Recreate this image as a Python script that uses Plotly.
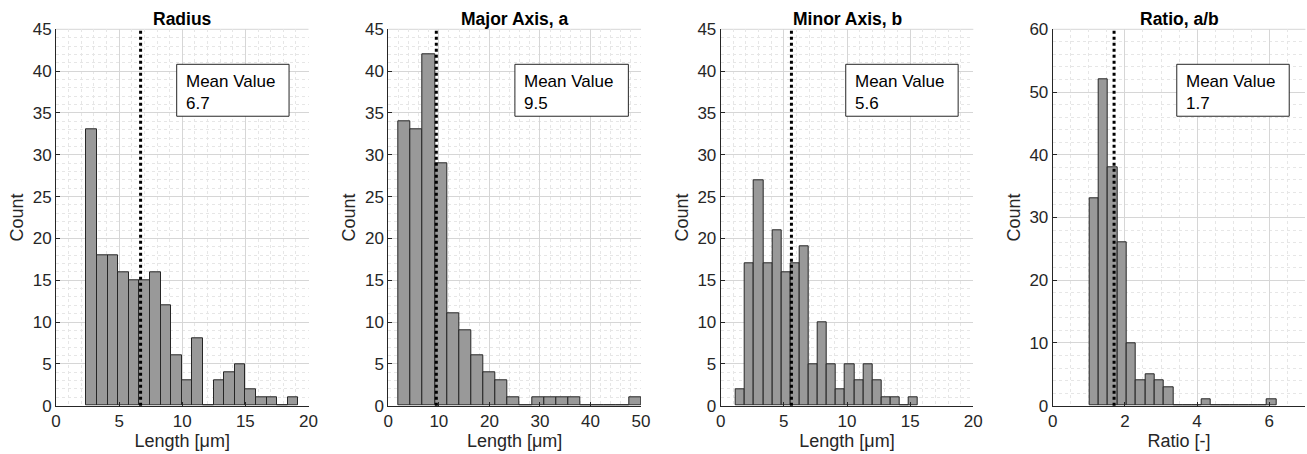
import plotly.graph_objects as go

# ---------------- data ----------------
titles = ["Radius", "Major Axis, a", "Minor Axis, b", "Ratio, a/b"]
xlabels = ["Length [μm]", "Length [μm]", "Length [μm]", "Ratio [-]"]

radius_counts = [33, 18, 18, 16, 15, 15, 16, 12, 6, 3, 8, 0, 3, 4, 5, 2, 1, 1, 0, 1]
major_counts = [34, 33, 42, 29, 11, 9, 6, 4, 3, 1, 0, 1, 1, 1, 1, 0, 0, 0, 0, 1]
minor_counts = [2, 17, 27, 17, 21, 16, 17, 19, 5, 10, 5, 2, 5, 3, 5, 3, 1, 1, 0, 1]
ratio_counts = [33, 52, 38, 26, 10, 4, 5, 4, 3, 0, 0, 0, 1, 0, 0, 0, 0, 0, 0, 1]

bin_starts = [2.40, 2.0, 1.21, 1.014]
bin_widths = [0.84, 2.4, 0.72, 0.259]
mean_values = [6.7, 9.5, 5.6, 1.7]

x_ranges = [[0, 20], [0, 50], [0, 20], [0, 7]]
x_dticks = [5, 10, 5, 2]
x_minor = [1, 2, 1, 0.5]
y_ranges = [[0, 45], [0, 45], [0, 45], [0, 60]]
y_dticks = [5, 5, 5, 10]
y_minor = [1, 1, 1, 2]

# ---------------- layout geometry ----------------
W, H = 1307, 454
x_domains = [[56 / W, 308.5 / W], [388.3 / W, 641 / W],
             [720.7 / W, 973.3 / W], [1052.7 / W, 1305.4 / W]]
y_domain = [1 - 405.7 / H, 1 - 29.3 / H]
box_x = [[0.478, 0.923], [0.501, 0.950], [0.495, 0.940], [0.491, 0.936]]
box_y = [0.769, 0.907]

TXT = "#262626"
FONT = "Liberation Sans, Arial, Helvetica, sans-serif"
MAJ = "#d6d6d6"
MIN = "#e6e6e6"

all_counts = [radius_counts, major_counts, minor_counts, ratio_counts]

fig = go.Figure()
layout = dict(
    width=W, height=H,
    margin=dict(l=0, r=0, t=0, b=0, autoexpand=False),
    paper_bgcolor="white", plot_bgcolor="white",
    showlegend=False,
    font=dict(family=FONT, color=TXT, size=16),
    shapes=[], annotations=[],
    bargap=0,
)

for i in range(4):
    sfx = "" if i == 0 else str(i + 1)
    xa, ya = "x" + sfx, "y" + sfx
    counts = all_counts[i]
    centers = [bin_starts[i] + bin_widths[i] * (k + 0.5) for k in range(len(counts))]
    fig.add_trace(go.Bar(
        x=centers, y=counts, width=[bin_widths[i]] * len(counts),
        xaxis=xa, yaxis=ya,
        marker=dict(color="rgb(153,153,153)", line=dict(color="#262626", width=1)),
        hoverinfo="x+y",
    ))
    layout["xaxis" + sfx] = dict(
        domain=x_domains[i], anchor=ya, range=x_ranges[i],
        dtick=x_dticks[i], tick0=0, automargin=False,
        showline=True, linecolor=TXT, linewidth=1, mirror=False,
        ticks="inside", ticklen=4, tickcolor=TXT,
        showgrid=True, gridcolor=MAJ, gridwidth=1,
        minor=dict(dtick=x_minor[i], tick0=0, showgrid=True, gridcolor=MIN,
                   griddash="dot", gridwidth=1, ticks=""),
        zeroline=False,
        tickfont=dict(size=17, color=TXT),
        title=dict(text=xlabels[i], font=dict(size=18, color=TXT), standoff=3),
    )
    layout["yaxis" + sfx] = dict(
        domain=y_domain, anchor=xa, range=y_ranges[i],
        dtick=y_dticks[i], tick0=0, automargin=False,
        showline=True, linecolor=TXT, linewidth=1, mirror=False,
        ticks="inside", ticklen=4, tickcolor=TXT,
        showgrid=True, gridcolor=MAJ, gridwidth=1,
        minor=dict(dtick=y_minor[i], tick0=0, showgrid=True, gridcolor=MIN,
                   griddash="dot", gridwidth=1, ticks=""),
        zeroline=False,
        tickfont=dict(size=17, color=TXT),
        title=dict(text="Count", font=dict(size=18, color=TXT), standoff=4),
    )
    # top / right frame in light grid color
    layout["shapes"].append(dict(type="line", xref=xa + " domain", yref=ya + " domain",
                                 x0=0, x1=1, y0=1, y1=1, line=dict(color=MAJ, width=1),
                                 layer="below"))
    # mean line
    layout["shapes"].append(dict(type="line", xref=xa, yref=ya + " domain",
                                 x0=mean_values[i], x1=mean_values[i], y0=0, y1=1,
                                 line=dict(color="black", width=3, dash="dot"),
                                 layer="above"))
    # text box
    layout["shapes"].append(dict(type="rect", xref=xa + " domain", yref=ya + " domain",
                                 x0=box_x[i][0], x1=box_x[i][1], y0=box_y[0], y1=box_y[1],
                                 line=dict(color=TXT, width=1), fillcolor="white",
                                 layer="above"))
    layout["annotations"].append(dict(
        xref=xa + " domain", yref=ya + " domain",
        x=box_x[i][0] + 0.03, y=box_y[1] - 0.015, xanchor="left", yanchor="top",
        align="left", showarrow=False,
        text="Mean Value<br>%.1f" % mean_values[i],
        font=dict(size=17, color="black"),
    ))
    # subplot title
    layout["annotations"].append(dict(
        xref=xa + " domain", yref="paper",
        x=0.5, y=1 - 19 / H, xanchor="center", yanchor="middle",
        showarrow=False, text="<b>%s</b>" % titles[i],
        font=dict(size=17.5, color="black"),
    ))

fig.update_layout(**layout)
fig.write_html("out.html")
